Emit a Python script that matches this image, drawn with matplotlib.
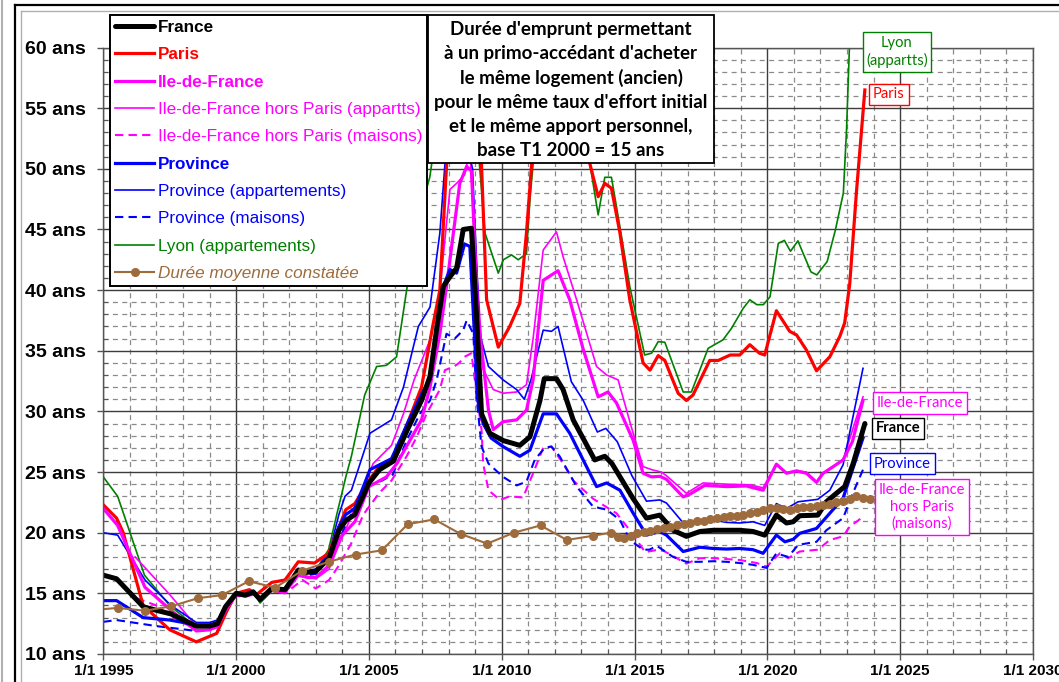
import matplotlib
matplotlib.use("Agg")
import matplotlib.pyplot as plt
from matplotlib.lines import Line2D
from matplotlib.patches import Rectangle
import numpy as np

plt.rcParams['font.family'] = ['Liberation Sans', 'DejaVu Sans']

# ---- data (years as decimal dates, values in years of loan) ----
france_t = [1995.0, 1995.5, 1996.5, 1997.0, 1997.55, 1998.5, 1999.0, 1999.3, 1999.6, 2000.0,
            2000.33, 2000.65, 2000.9, 2001.34, 2001.84, 2002.34, 2002.5, 2003.0, 2003.5, 2003.87,
            2004.13, 2004.47, 2005.0, 2005.4, 2005.92, 2006.45, 2006.98, 2007.3, 2007.55, 2007.8,
            2008.05, 2008.3, 2008.55, 2008.86, 2009.05, 2009.24, 2009.55, 2010.05, 2010.68, 2011.06,
            2011.44, 2011.6, 2012.06, 2012.31, 2012.69, 2013.5, 2013.88, 2014.15, 2014.95, 2015.45,
            2015.95, 2016.45, 2016.95, 2017.46, 2017.96, 2018.96, 2019.46, 2019.9, 2020.34, 2020.72,
            2020.97, 2021.22, 2021.9, 2022.22, 2022.6, 2022.91, 2023.23, 2023.67]
france_v = [16.5, 16.2, 13.9, 13.6, 13.3, 12.3, 12.3, 12.5, 13.9, 15.0,
            14.85, 15.1, 14.5, 15.4, 15.3, 16.9, 16.7, 16.8, 17.9, 20.2,
            21.0, 21.5, 24.1, 25.2, 25.9, 28.5, 30.9, 32.9, 36.8, 40.3,
            41.1, 41.8, 45.0, 45.1, 38.0, 29.8, 28.2, 27.6, 27.2, 27.9,
            30.9, 32.7, 32.7, 31.8, 29.3, 26.0, 26.3, 25.7, 22.8, 21.2,
            21.45, 20.2, 19.7, 20.1, 20.2, 20.2, 20.1, 19.8, 21.45, 20.8,
            20.9, 21.4, 21.45, 22.55, 23.25, 23.8, 25.7, 29.0]

paris_t = [1995.0, 1995.5, 1995.75, 1996.5, 1997.5, 1998.5, 1999.27, 1999.64, 2000.0, 2000.5,
           2000.77, 2001.34, 2001.84, 2002.34, 2002.95, 2003.48, 2004.13, 2004.47, 2005.0, 2005.4,
           2005.92, 2006.45, 2006.98, 2007.4, 2007.67, 2007.92, 2008.2, 2008.5, 2008.9, 2009.24,
           2009.43, 2009.87, 2010.3, 2010.68, 2010.93, 2011.12, 2011.5, 2012.0, 2012.7, 2013.32,
           2013.63, 2013.88, 2014.13, 2014.45, 2014.82, 2015.32, 2015.58, 2015.89, 2016.14, 2016.64,
           2016.95, 2017.2, 2017.83, 2018.15, 2018.6, 2018.96, 2019.34, 2019.7, 2019.9, 2020.34,
           2020.84, 2021.1, 2021.47, 2021.85, 2022.35, 2022.73, 2022.91, 2023.1, 2023.35, 2023.67]
paris_v = [22.3, 21.2, 20.0, 14.0, 12.0, 11.0, 11.7, 13.5, 15.0, 15.3,
           14.9, 15.9, 16.1, 17.6, 17.5, 18.3, 21.9, 22.4, 24.3, 25.5,
           26.1, 29.0, 32.0, 37.0, 40.0, 50.2, 58.0, 64.0, 64.0, 50.2,
           39.2, 35.3, 37.0, 38.9, 44.7, 50.2, 58.0, 64.0, 64.0, 50.4,
           47.7, 48.8, 48.4, 44.7, 39.2, 34.0, 33.4, 34.6, 34.2, 31.5,
           30.9, 31.35, 34.2, 34.2, 34.65, 34.65, 35.5, 34.8, 34.65, 38.3,
           36.6, 36.3, 35.06, 33.35, 34.5, 36.2, 37.3, 40.5, 48.0, 56.5]

idf_t = [1995.0, 1995.54, 1996.57, 1997.55, 1998.5, 1999.0, 1999.3, 1999.6, 2000.0, 2000.33,
         2000.65, 2000.9, 2001.34, 2001.84, 2002.34, 2002.7, 2003.0, 2003.5, 2003.87, 2004.47,
         2005.0, 2005.66, 2006.05, 2006.98, 2007.3, 2007.67, 2007.92, 2008.42, 2008.68, 2008.86,
         2009.1, 2009.5, 2009.68, 2010.05, 2010.56, 2010.93, 2011.18, 2011.56, 2012.12, 2012.56,
         2013.07, 2013.63, 2014.0, 2014.32, 2014.95, 2015.32, 2015.64, 2015.95, 2016.2, 2016.83,
         2017.1, 2017.64, 2018.46, 2019.21, 2019.84, 2020.34, 2020.72, 2021.1, 2021.47, 2021.85,
         2022.1, 2022.48, 2022.85, 2023.2, 2023.6]
idf_v = [22.0, 20.6, 15.5, 13.6, 11.9, 12.0, 12.3, 13.6, 14.9, 14.8,
         15.0, 14.6, 15.3, 15.1, 16.5, 16.3, 16.3, 17.3, 19.5, 20.9,
         23.8, 24.6, 25.7, 29.3, 32.0, 36.4, 40.3, 48.8, 50.2, 49.8,
         38.0, 30.1, 28.5, 29.15, 29.3, 30.1, 32.6, 40.8, 41.6, 39.2,
         35.1, 31.2, 31.6, 30.7, 27.6, 24.9, 24.6, 24.65, 24.4, 22.95,
         23.2, 23.9, 23.8, 23.85, 23.5, 25.65, 24.9, 25.1, 24.9, 24.15,
         24.9, 25.45, 26.0, 27.5, 30.9]

idf_app_t = [1996.2, 1997.5, 1998.5, 1999.0, 1999.3, 1999.6, 2000.0, 2000.33, 2000.65, 2000.9,
             2001.34, 2001.84, 2002.34, 2002.7, 2003.0, 2003.5, 2003.87, 2004.47, 2005.16, 2005.85,
             2006.3, 2006.7, 2007.3, 2007.67, 2008.05, 2008.3, 2008.6, 2008.8, 2009.05, 2009.3,
             2009.68, 2010.05, 2010.56, 2010.93, 2011.18, 2011.56, 2012.06, 2012.31, 2012.82, 2013.57,
             2013.95, 2014.38, 2014.88, 2015.32, 2015.64, 2016.0, 2016.2, 2016.95, 2017.58, 2018.46,
             2019.34, 2019.84, 2020.34, 2020.72, 2021.1, 2021.47, 2021.85, 2022.1, 2022.85, 2023.6]
idf_app_v = [18.0, 14.9, 12.3, 12.2, 12.4, 13.7, 14.9, 14.8, 15.0, 14.5,
             15.2, 15.0, 16.6, 16.4, 16.2, 17.0, 19.0, 22.0, 25.7, 27.2,
             29.8, 32.6, 35.9, 40.0, 48.3, 48.8, 49.5, 51.5, 42.0, 33.5,
             31.8, 31.5, 31.6, 32.2, 36.0, 43.3, 44.8, 42.75, 39.2, 33.7,
             33.0, 32.6, 28.7, 25.45, 25.2, 25.0, 24.7, 23.25, 24.1, 24.0,
             23.95, 23.7, 25.6, 24.95, 25.1, 25.0, 24.2, 24.9, 26.0, 31.2]

idf_mai_t = [1996.25, 1997.0, 1997.5, 1998.5, 1999.0, 1999.3, 1999.6, 2000.0, 2000.33, 2000.65,
             2000.9, 2001.34, 2001.84, 2002.5, 2003.0, 2003.5, 2003.87, 2004.33, 2004.79, 2005.4,
             2005.85, 2006.42, 2006.8, 2007.17, 2007.67, 2007.86, 2008.2, 2008.4, 2008.6, 2008.86,
             2009.05, 2009.24, 2009.3, 2009.5, 2009.93, 2010.3, 2010.8, 2011.18, 2011.56, 2011.87,
             2012.31, 2012.69, 2013.44, 2013.95, 2014.32, 2014.82, 2015.4, 2015.9, 2016.1, 2016.95,
             2017.46, 2017.96, 2018.96, 2019.6, 2019.97, 2020.47, 2020.78, 2021.22, 2021.9, 2022.35,
             2022.85, 2023.1, 2023.6]
idf_mai_v = [14.6, 14.0, 13.2, 12.0, 12.0, 12.2, 13.5, 14.8, 14.7, 14.9,
             14.4, 15.2, 15.0, 16.1, 15.4, 16.1, 17.3, 19.1, 21.5, 23.3,
             24.3, 26.3, 27.9, 29.8, 31.8, 33.4, 33.7, 34.0, 34.5, 34.8,
             31.5, 28.5, 25.7, 23.5, 22.7, 23.0, 22.9, 24.9, 27.0, 27.1,
             25.7, 24.3, 22.8, 22.1, 21.6, 20.2, 18.4, 18.6, 18.5, 17.45,
             17.9, 17.9, 17.75, 17.5, 17.2, 18.3, 17.9, 18.45, 18.6, 19.4,
             19.7, 20.5, 21.3]

prov_t = [1995.0, 1995.5, 1996.5, 1997.5, 1998.5, 1999.0, 1999.3, 1999.6, 2000.0, 2000.33,
          2000.65, 2000.9, 2001.34, 2001.84, 2002.34, 2002.7, 2003.0, 2003.5, 2003.87, 2004.13,
          2004.47, 2005.04, 2005.85, 2006.45, 2007.0, 2007.3, 2007.8, 2008.05, 2008.3, 2008.6,
          2008.8, 2009.1, 2009.3, 2009.6, 2010.05, 2010.68, 2011.06, 2011.56, 2012.06, 2012.56,
          2013.57, 2013.95, 2014.45, 2014.95, 2015.45, 2015.95, 2016.2, 2016.83, 2017.46, 2017.96,
          2018.46, 2018.96, 2019.46, 2019.84, 2020.34, 2020.66, 2020.97, 2021.22, 2021.85, 2022.35,
          2022.85, 2023.6]
prov_v = [14.4, 14.4, 13.0, 12.8, 12.4, 12.4, 12.6, 13.9, 15.0, 14.9,
          15.2, 14.4, 15.5, 15.3, 17.0, 16.8, 16.9, 18.0, 20.5, 21.5,
          22.0, 25.2, 26.1, 29.0, 31.5, 32.6, 40.3, 41.7, 41.4, 43.8,
          43.6, 30.9, 29.0, 27.8, 27.1, 26.3, 26.8, 29.8, 29.8, 28.2,
          23.8, 24.1, 23.5, 21.6, 19.8, 20.1, 19.8, 18.45, 18.8, 18.7,
          18.65, 18.7, 18.6, 18.3, 19.8, 19.25, 19.45, 19.95, 20.35, 21.6,
          22.85, 27.8]

prov_app_t = [1995.0, 1995.54, 1996.57, 1997.55, 1998.5, 1999.0, 1999.3, 1999.6, 2000.0, 2000.33,
              2000.65, 2000.9, 2001.34, 2001.84, 2002.34, 2002.7, 2003.0, 2003.5, 2003.87, 2004.1,
              2004.34, 2005.04, 2005.85, 2006.3, 2006.86, 2007.3, 2007.67, 2007.9, 2008.3, 2008.6,
              2008.9, 2009.17, 2009.5, 2010.05, 2010.56, 2010.85, 2011.1, 2011.56, 2011.87, 2012.12,
              2012.62, 2013.07, 2013.6, 2013.92, 2014.35, 2014.9, 2015.45, 2015.95, 2016.2, 2016.95,
              2017.46, 2017.96, 2018.46, 2018.96, 2019.46, 2019.9, 2020.34, 2020.72, 2021.16, 2021.9,
              2022.35, 2022.85, 2023.6]
prov_app_v = [20.0, 19.8, 16.1, 14.0, 12.6, 12.6, 12.8, 14.0, 15.1, 14.9,
              15.2, 14.4, 15.4, 15.4, 17.0, 16.9, 17.0, 18.3, 21.5, 23.0,
              23.5, 28.2, 29.3, 32.0, 37.0, 38.6, 44.7, 51.5, 53.0, 53.0,
              50.0, 36.4, 33.7, 32.6, 31.8, 31.0, 32.6, 36.7, 36.6, 37.0,
              32.45, 30.9, 28.3, 28.6, 27.5, 24.7, 22.6, 22.7, 22.45, 20.5,
              21.0, 21.05, 20.85, 20.8, 20.9, 20.6, 22.4, 22.0, 22.55, 22.75,
              23.5, 25.6, 33.55]

prov_mai_t = [1995.0, 1995.5, 1997.0, 1998.5, 1999.0, 1999.3, 1999.6, 2000.0, 2000.33, 2000.65,
              2000.9, 2001.34, 2001.84, 2002.34, 2002.7, 2003.0, 2003.54, 2004.0, 2004.5, 2004.91,
              2005.5, 2005.9, 2006.42, 2006.92, 2007.3, 2007.55, 2007.92, 2008.23, 2008.55, 2008.68,
              2008.93, 2009.05, 2009.24, 2009.5, 2010.05, 2010.56, 2010.93, 2011.24, 2011.62, 2011.87,
              2012.18, 2012.82, 2013.44, 2013.95, 2014.45, 2014.82, 2015.32, 2015.55, 2015.85, 2016.45,
              2016.95, 2017.46, 2017.96, 2018.46, 2018.96, 2019.46, 2019.97, 2020.34, 2020.78, 2021.16,
              2021.85, 2022.22, 2022.85, 2023.17, 2023.6]
prov_mai_v = [12.65, 12.8, 12.3, 11.9, 12.0, 12.3, 13.6, 14.9, 14.8, 15.0,
              14.4, 15.3, 15.1, 16.6, 16.5, 16.6, 18.0, 20.0, 22.3, 23.8,
              24.3, 24.8, 27.6, 29.8, 30.9, 32.6, 36.4, 36.0, 36.7, 37.5,
              36.4, 31.2, 27.1, 25.7, 24.6, 23.9, 24.2, 26.0, 27.0, 27.1,
              26.3, 23.8, 22.15, 21.9, 21.05, 19.4, 18.6, 18.6, 18.9, 18.0,
              17.6, 17.6, 17.65, 17.6, 17.5, 17.35, 17.1, 18.3, 18.0, 19.0,
              19.25, 20.2, 21.2, 23.0, 25.2]

lyon_t = [1995.0, 1995.54, 1996.55, 1997.5, 1998.5, 1999.0, 1999.4, 1999.7, 2000.0, 2000.33,
          2000.65, 2000.9, 2001.4, 2001.84, 2002.34, 2002.6, 2003.0, 2003.48, 2003.8, 2004.13,
          2004.34, 2004.84, 2005.29, 2005.66, 2006.04, 2006.42, 2006.8, 2007.29, 2007.6, 2008.0,
          2008.8, 2009.1, 2009.37, 2009.87, 2010.06, 2010.37, 2010.62, 2010.93, 2011.06, 2011.18,
          2011.6, 2012.2, 2012.8, 2013.32, 2013.63, 2013.88, 2014.13, 2014.45, 2014.82, 2015.38,
          2015.64, 2015.89, 2016.14, 2016.83, 2017.14, 2017.77, 2018.33, 2018.65, 2019.09, 2019.34,
          2019.6, 2019.85, 2020.1, 2020.41, 2020.64, 2020.87, 2021.15, 2021.64, 2021.86, 2022.25,
          2022.56, 2022.86, 2022.98, 2023.12]
lyon_v = [24.6, 23.0, 16.5, 14.0, 12.2, 12.2, 12.5, 14.0, 15.0, 14.9,
          15.2, 14.2, 15.3, 15.05, 16.7, 16.65, 16.9, 18.6, 21.6, 24.6,
          26.3, 31.35, 33.7, 33.8, 34.5, 40.0, 45.5, 49.3, 54.0, 62.0,
          64.0, 52.0, 44.7, 41.4, 42.5, 42.9, 42.5, 43.0, 47.4, 50.4,
          58.0, 64.0, 60.0, 50.4, 46.2, 49.3, 49.3, 45.2, 40.3, 34.65,
          34.8, 35.75, 35.7, 31.6, 31.6, 35.2, 35.9, 36.85, 38.5, 39.2,
          38.8, 38.8, 39.45, 43.85, 44.1, 43.2, 44.06, 41.5, 41.25, 42.35,
          44.95, 48.0, 53.2, 62.0]

moy_t = [1994.5, 1995.54, 1996.57, 1997.55, 1998.56, 1999.47, 2000.48, 2001.47, 2002.49, 2003.48,
         2004.5, 2005.49, 2006.46, 2007.46, 2008.45, 2009.45, 2010.46, 2011.46, 2012.45, 2013.45,
         2014.1, 2014.36, 2014.6, 2014.86,
         2015.1, 2015.35, 2015.6, 2015.85, 2016.1, 2016.35, 2016.6, 2016.85, 2017.1, 2017.35,
         2017.6, 2017.85, 2018.1, 2018.35, 2018.6, 2018.85, 2019.1, 2019.35, 2019.6, 2019.85,
         2020.1, 2020.35, 2020.6, 2020.85, 2021.1, 2021.35, 2021.6, 2021.85, 2022.1, 2022.35,
         2022.6, 2022.85, 2023.1, 2023.35, 2023.6, 2023.85]
moy_v = [13.6, 13.8, 13.57, 13.93, 14.6, 14.86, 16.0, 15.47, 16.87, 17.6,
         18.2, 18.55, 20.7, 21.1, 19.9, 19.1, 20.0, 20.6, 19.4, 19.75,
         20.0, 19.67, 19.6, 19.7,
         20.0, 20.05, 20.1, 20.3, 20.4, 20.5, 20.6, 20.7, 20.8, 20.95,
         21.0, 21.1, 21.2, 21.3, 21.35, 21.4, 21.5, 21.6, 21.7, 21.85,
         22.0, 22.05, 21.95, 21.9, 22.0, 22.1, 22.15, 22.2, 22.3, 22.4,
         22.5, 22.65, 22.8, 23.0, 22.9, 22.75]

year_ticks = [1995, 2000, 2005, 2010, 2015, 2020, 2025, 2030]
ans_ticks = [10, 15, 20, 25, 30, 35, 40, 45, 50, 55, 60]

RED, MAG, BLUE, GREEN, BROWN = '#ff0000', '#ff00ff', '#0000ff', '#008000', '#9e6c3c'

W, H = 1059, 682
def fx(x):
    return x / W
def fy(y):
    return 1 - y / H

fig = plt.figure(figsize=(W / 100, H / 100), dpi=100)
ax = fig.add_axes([fx(103.3), fy(654), fx(1033) - fx(103.3), fy(47.5) - fy(654)])

ax.set_xlim(1995, 2030)
ax.set_ylim(10, 60)
ax.set_xticks(year_ticks)
ax.set_xticks([y for y in range(1995, 2031) if y % 5], minor=True)
ax.set_yticks(ans_ticks)
ax.set_yticks([v for v in range(10, 61) if v % 5], minor=True)
ax.set_xticklabels([f"1/1 {y}" for y in year_ticks], fontsize=11, fontweight='bold')
ax.set_yticklabels([f"{v} ans" for v in ans_ticks], fontsize=14, fontweight='bold')
ax.grid(which='major', color='#3c3c3c', lw=1.0, ls='-')
ax.grid(which='minor', color='#8a8a8a', lw=0.9, ls=(0, (4, 3.5)))
ax.set_axisbelow(True)
ax.tick_params(which='major', direction='out', length=4.5, width=1, color='#555555')
ax.tick_params(axis='y', which='major', pad=8)
ax.tick_params(axis='x', which='major', pad=3)
ax.tick_params(which='minor', direction='in', length=3.5, width=0.8, color='#555555')
for s in ax.spines.values():
    s.set_color('#555555')
    s.set_linewidth(1.0)

l_lyon, = ax.plot(lyon_t, lyon_v, color=GREEN, lw=1.2)
l_idfm, = ax.plot(idf_mai_t, idf_mai_v, color=MAG, lw=1.5, ls=(0, (4, 2.5)))
l_provm, = ax.plot(prov_mai_t, prov_mai_v, color=BLUE, lw=1.5, ls=(0, (4, 2.5)))
l_idfa, = ax.plot(idf_app_t, idf_app_v, color=MAG, lw=1.2)
l_prova, = ax.plot(prov_app_t, prov_app_v, color=BLUE, lw=1.2)
l_paris, = ax.plot(paris_t, paris_v, color=RED, lw=2.3)
l_idf, = ax.plot(idf_t, idf_v, color=MAG, lw=2.3)
l_prov, = ax.plot(prov_t, prov_v, color=BLUE, lw=2.3)
l_fr, = ax.plot(france_t, france_v, color='black', lw=3.6, solid_capstyle='round')
l_moy, = ax.plot(moy_t, moy_v, color=BROWN, lw=1.5, marker='o', ms=5.5)

handles = [l_fr, l_paris, l_idf, l_idfa, l_idfm, l_prov, l_prova, l_provm, l_lyon, l_moy]
labels = ['France', 'Paris', 'Ile-de-France', 'Ile-de-France hors Paris (appartts)',
          'Ile-de-France hors Paris (maisons)', 'Province', 'Province (appartements)',
          'Province (maisons)', 'Lyon (appartements)', 'Durée moyenne constatée']
colors = ['black', RED, MAG, MAG, MAG, BLUE, BLUE, BLUE, GREEN, BROWN]
weights = ['bold', 'bold', 'bold', 'normal', 'normal', 'bold', 'normal', 'normal', 'normal', 'normal']

leg = fig.legend(handles, labels, loc='upper left', bbox_to_anchor=(fx(110), fy(15)),
                 fontsize=12.3, frameon=True, fancybox=False, framealpha=1, edgecolor='black',
                 borderpad=0.3, borderaxespad=0, handlelength=2.3, handletextpad=0.2,
                 labelspacing=0.72)
leg.get_frame().set_linewidth(1.4)
for t, c, w in zip(leg.get_texts(), colors, weights):
    t.set_color(c)
    t.set_fontweight(w)
leg.get_texts()[-1].set_fontstyle('italic')

# explanatory box
fig.add_artist(Rectangle((fx(428), fy(163)), fx(714) - fx(428), fy(15) - fy(163),
                         transform=fig.transFigure, facecolor='white', edgecolor='black',
                         lw=1.3, zorder=6))
fig.text(fx(571), fy(90), "Durée d'emprunt permettant\nà un primo-accédant d'acheter\n"
         "le même logement (ancien)\npour le même taux d'effort initial\n"
         "et le même apport personnel,\nbase T1 2000 = 15 ans",
         ha='center', va='center', family=['Lato', 'DejaVu Sans'], fontweight='bold',
         fontsize=13.5, linespacing=1.5, zorder=7)

# end-of-line labels
end_labels = [("Lyon\n(appartts)", 897, 52, GREEN, 'normal'),
              ("Paris", 889, 94.5, RED, 'normal'),
              ("Ile-de-France", 920, 403, MAG, 'normal'),
              ("France", 898, 428.5, 'black', 'bold'),
              ("Province", 902.5, 463.5, BLUE, 'normal'),
              ("Ile-de-France\nhors Paris\n(maisons)", 922, 507, MAG, 'normal')]
for txt, x, y, c, w in end_labels:
    fig.text(fx(x), fy(y), txt, ha='center', va='center', color=c, fontweight=w,
             family=['Lato', 'DejaVu Sans'], fontsize=10.6, linespacing=1.25, zorder=7,
             bbox=dict(boxstyle='square,pad=0.25', facecolor='white', edgecolor=c, lw=1.0))

# chart-area frame lines
fig.add_artist(Line2D([fx(15), fx(15)], [0, fy(5)], color='black', lw=1.6))
fig.add_artist(Line2D([fx(15), 1], [fy(5), fy(5)], color='black', lw=1.6))
fig.add_artist(Line2D([fx(21), fx(21)], [0, fy(11)], color='#b0b0b0', lw=1.0))
fig.add_artist(Line2D([fx(21), 1], [fy(11), fy(11)], color='#b0b0b0', lw=1.0))
fig.add_artist(Line2D([fx(1.5), fx(1.5)], [0, 1], color='#b0b0b0', lw=1.5))

fig.savefig('out.png', dpi=100)
